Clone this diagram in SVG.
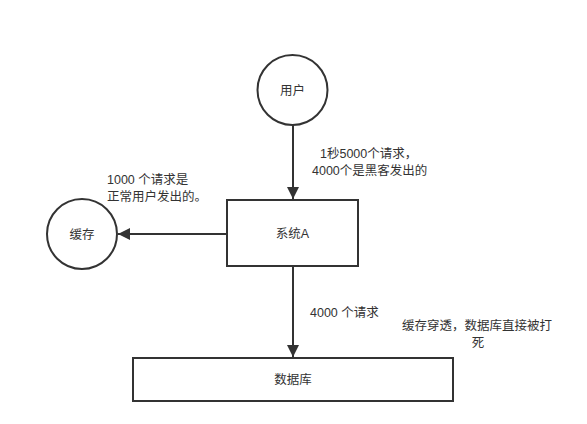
<svg xmlns="http://www.w3.org/2000/svg" width="587" height="424" viewBox="0 0 587 424">
<style>
.n{fill:#fff;stroke:#333;stroke-width:2}
.t{font-family:"Liberation Sans","Noto Sans CJK SC",sans-serif;font-size:12.5px;fill:#333}
.c{text-anchor:middle}
.e{stroke:#333;stroke-width:2;fill:none}
</style>
<defs>
<marker id="a" viewBox="0 0 10 10" refX="10" refY="5" markerWidth="6" markerHeight="6" orient="auto" markerUnits="strokeWidth">
<path d="M0,0L10,5L0,10z" fill="#333"/>
</marker>
</defs>
<rect width="587" height="424" fill="#fff"/>
<g id="edges">
<line class="e" x1="293" y1="125" x2="293" y2="199" marker-end="url(#a)"/>
<line class="e" x1="227" y1="234" x2="118" y2="234" marker-end="url(#a)"/>
<line class="e" x1="293" y1="266" x2="293" y2="357" marker-end="url(#a)"/>
</g>
<g id="user">
<circle class="n" cx="292.5" cy="90" r="35"/>
<text class="t c" x="292.5" y="95">用户</text>
</g>
<g id="systemA">
<rect class="n" x="227" y="200" width="131" height="66"/>
<text class="t c" x="292.5" y="238">系统A</text>
</g>
<g id="cache">
<circle class="n" cx="82" cy="234" r="35"/>
<text class="t c" x="82" y="239">缓存</text>
</g>
<g id="db">
<rect class="n" x="133" y="358" width="320" height="43"/>
<text class="t c" x="293" y="384">数据库</text>
</g>
<g id="labels">
<text class="t" x="320" y="158">1秒5000个请求，</text>
<text class="t" x="312" y="175">4000个是黑客发出的</text>
<text class="t" x="107" y="184">1000 个请求是</text>
<text class="t" x="107" y="201">正常用户发出的。</text>
<text class="t" x="310" y="317">4000 个请求</text>
<text class="t" x="402" y="330">缓存穿透，数据库直接被打</text>
<text class="t c" x="478" y="347">死</text>
</g>
</svg>
